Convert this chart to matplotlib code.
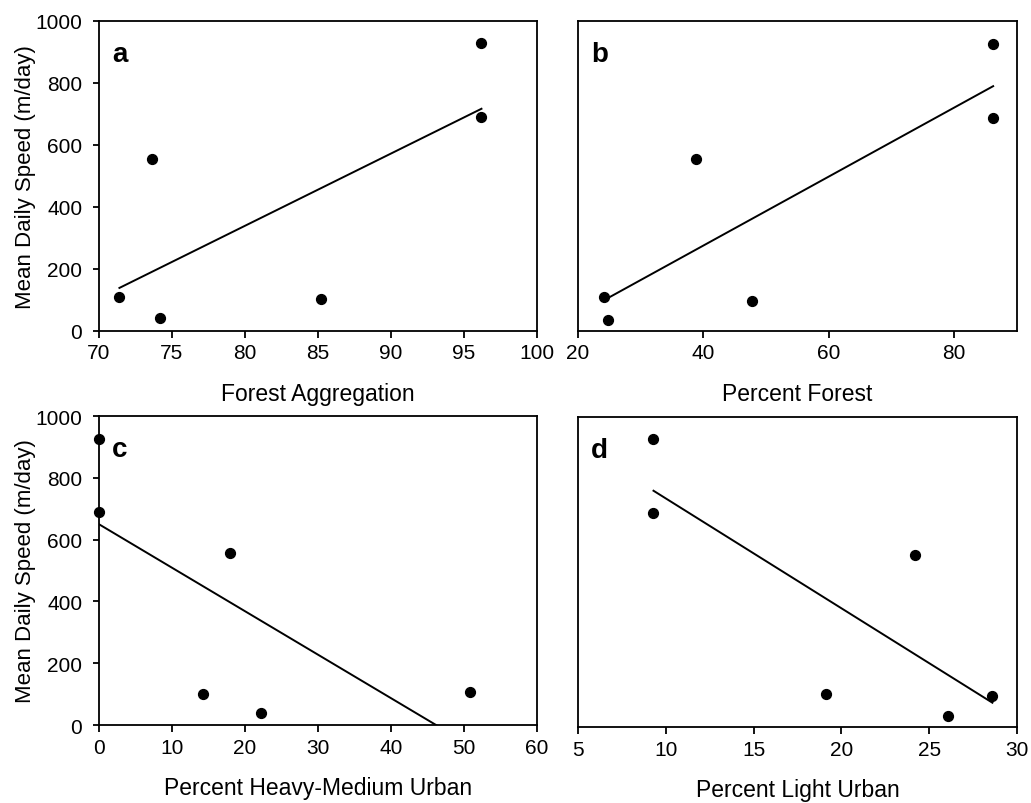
import numpy as np
import matplotlib.pyplot as plt

plt.rcParams['font.family'] = ['Liberation Sans', 'DejaVu Sans']

# Mean daily speed (m/day) against landscape metrics, one list per panel
agg_x = [71.4, 73.6, 74.2, 85.2, 96.2, 96.2]
agg_y = [110, 555, 41, 102, 929, 690]

forest_x = [24.2, 24.8, 38.8, 47.7, 86.2, 86.2]
forest_y = [109, 37, 554, 98, 925, 686]

heavy_x = [0.0, 0.0, 17.9, 14.2, 22.2, 50.8]
heavy_y = [927, 689, 558, 101, 38, 107]

light_x = [9.3, 9.3, 24.2, 19.1, 26.1, 28.6]
light_y = [928, 691, 556, 108, 37, 99]

panels = [
    ("a", agg_x, agg_y, "Forest Aggregation", (70, 100), [70, 75, 80, 85, 90, 95, 100]),
    ("b", forest_x, forest_y, "Percent Forest", (20, 90), [20, 40, 60, 80]),
    ("c", heavy_x, heavy_y, "Percent Heavy-Medium Urban", (0, 60), [0, 10, 20, 30, 40, 50, 60]),
    ("d", light_x, light_y, "Percent Light Urban", (5, 30), [5, 10, 15, 20, 25, 30]),
]

fig = plt.figure(figsize=(10.31, 8.04), dpi=100)
boxes = [
    [0.096, 0.5871, 0.4248, 0.3856],
    [0.5606, 0.5871, 0.4258, 0.3856],
    [0.096, 0.0970, 0.4248, 0.3843],
    [0.5606, 0.0945, 0.4258, 0.3856],
]

for i, (letter, x, y, xlabel, xlim, xticks) in enumerate(panels):
    ax = fig.add_axes(boxes[i])
    x = np.array(x)
    y = np.array(y)

    # least-squares line over the range of the data
    slope, icept = np.polyfit(x, y, 1)
    xs = np.array([x.min(), x.max()])
    ax.plot(xs, slope * xs + icept, color='black', lw=1.4)
    ax.scatter(x, y, s=50, color='black', zorder=3, clip_on=False)

    ax.set_xlim(*xlim)
    ax.set_ylim(0, 1000)
    ax.set_xticks(xticks)
    ax.tick_params(axis='x', direction='out', length=5, width=1.3, labelsize=15, pad=4)
    if i % 2 == 0:
        ax.set_yticks([0, 200, 400, 600, 800, 1000])
        ax.tick_params(axis='y', direction='out', length=4, width=1.3, labelsize=15, pad=8)
        ax.set_ylabel("Mean Daily Speed (m/day)", fontsize=16)
        ax.yaxis.set_label_coords(-0.143, 0.5)
    else:
        ax.set_yticks([])

    ax.set_xlabel(xlabel, fontsize=16.5, labelpad=14)
    for sp in ax.spines.values():
        sp.set_linewidth(1.3)

    ax.text(0.03, 0.87, letter, transform=ax.transAxes, fontsize=20,
            fontweight='bold', ha='left', va='baseline')

fig.savefig("out.png", dpi=100)
